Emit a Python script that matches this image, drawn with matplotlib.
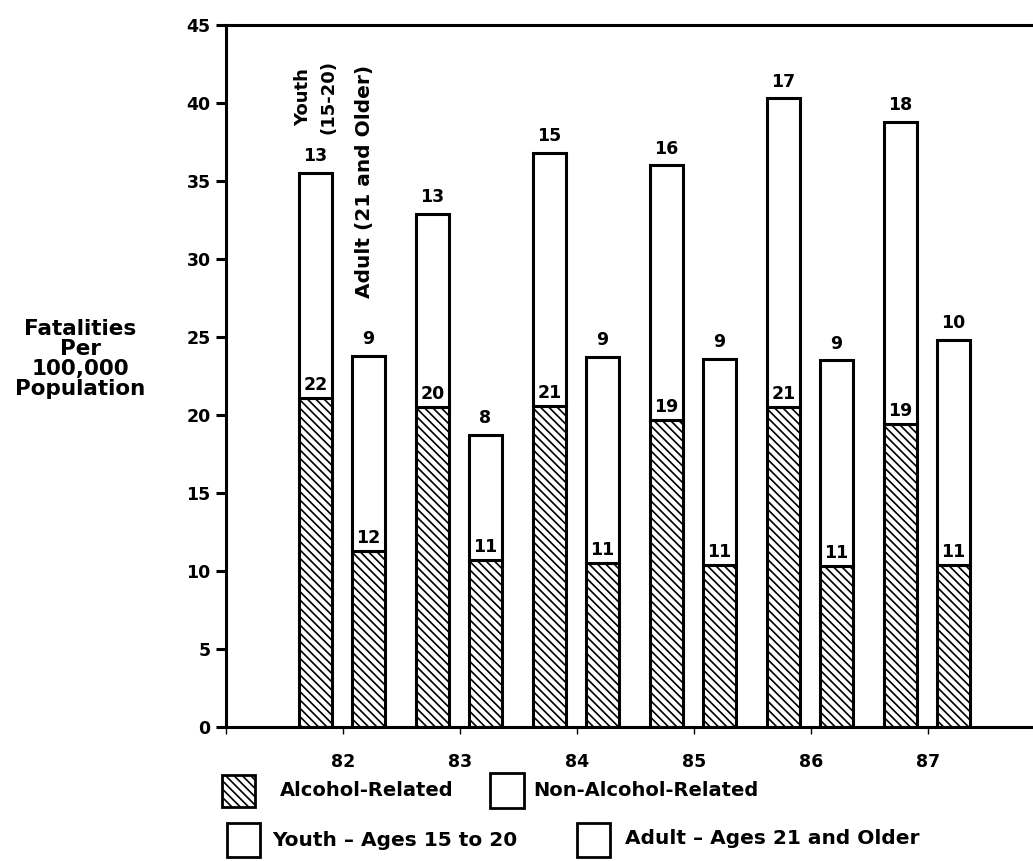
import matplotlib
matplotlib.use("Agg")
import matplotlib.pyplot as plt
from matplotlib.patches import Rectangle
import numpy as np

plt.rcParams["font.family"] = ["DejaVu Sans"]
plt.rcParams["font.weight"] = "bold"
plt.rcParams["hatch.linewidth"] = 1.2

# values (bar heights as drawn, labels as printed)
years = [82, 83, 84, 85, 86, 87]
youth_total = [35.5, 32.9, 36.8, 36.0, 40.3, 38.8]
youth_alcohol = [21.1, 20.5, 20.6, 19.7, 20.5, 19.4]
adult_total = [23.8, 18.7, 23.7, 23.6, 23.5, 24.8]
adult_alcohol = [11.3, 10.7, 10.5, 10.4, 10.3, 10.4]

youth_alc_labels = [22, 20, 21, 19, 21, 19]
youth_non_labels = [13, 13, 15, 16, 17, 18]
adult_alc_labels = [12, 11, 11, 11, 11, 11]
adult_non_labels = [9, 8, 9, 9, 9, 10]

W, H = 1033, 861
fig = plt.figure(figsize=(W / 100, H / 100), dpi=100)
fig.patch.set_facecolor("white")

# axes placed in pixels: x 81 at 226px, 88 at 1045px; y 0 at 727px, 45 at 25px
ax = fig.add_axes([226 / W, (H - 727) / H, (1045 - 226) / W, (727 - 25) / H])

x = np.array(years, dtype=float)
bw = 0.28
off_y, off_a = -0.235, 0.215
lw = 2.2


def draw_group(xpos, total, alcohol, alc_lab, non_lab):
    total = np.array(total)
    alcohol = np.array(alcohol)
    ax.bar(xpos, alcohol, width=bw, facecolor="white", edgecolor="black",
           hatch="\\\\\\\\", linewidth=lw, zorder=2)
    ax.bar(xpos, total - alcohol, bottom=alcohol, width=bw, facecolor="white",
           edgecolor="black", linewidth=lw, zorder=2)
    for xi, a, t, la, ln in zip(xpos, alcohol, total, alc_lab, non_lab):
        ax.text(xi, a + 0.25, str(la), ha="center", va="bottom",
                fontsize=12.5, fontweight="bold", zorder=3)
        ax.text(xi, t + 0.5, str(ln), ha="center", va="bottom",
                fontsize=12.5, fontweight="bold", zorder=3)


draw_group(x + off_y, youth_total, youth_alcohol, youth_alc_labels, youth_non_labels)
draw_group(x + off_a, adult_total, adult_alcohol, adult_alc_labels, adult_non_labels)

ax.set_xlim(81, 88)
ax.set_ylim(0, 45)
ax.set_yticks(range(0, 46, 5))
ax.set_yticklabels([str(v) for v in range(0, 46, 5)])
ax.set_xticks([81] + years)
ax.set_xticklabels([""] + [str(y) for y in years])

ax.tick_params(axis="y", direction="out", length=7, width=2.2, pad=4,
               labelsize=12.5)
ax.tick_params(axis="x", direction="out", length=5, width=1.0, pad=14,
               labelsize=12.5)
for lab in ax.get_xticklabels() + ax.get_yticklabels():
    lab.set_fontweight("bold")

for side in ["left", "bottom", "top"]:
    ax.spines[side].set_linewidth(2.2)
ax.spines["right"].set_visible(False)

# rotated group captions above the first pair
ax.text(82 + off_y, 40.4, "Youth\n(15-20)", rotation=90, ha="center",
        va="center", fontsize=13, fontweight="bold", linespacing=1.5)
ax.text(82 + off_a - 0.03, 35.0, "Adult (21 and Older)", rotation=90,
        ha="center", va="center", fontsize=14.5, fontweight="bold")

# y-axis caption
fig.text(80 / W, 1 - 359 / H, "Fatalities\nPer\n100,000\nPopulation",
         ha="center", va="center", fontsize=15.5, fontweight="bold",
         linespacing=1.0)


# legend drawn by hand below the axis
def legend_box(x0, y0, x1, y1, hatch=None):
    r = Rectangle((x0 / W, 1 - y1 / H), (x1 - x0) / W, (y1 - y0) / H,
                  transform=fig.transFigure, facecolor="white",
                  edgecolor="black", linewidth=2.0, hatch=hatch)
    fig.patches.append(r)


legend_box(222, 775, 255, 807, hatch="\\\\\\\\")
legend_box(490, 773, 524, 808)
legend_box(227, 823, 260, 857)
legend_box(577, 823, 610, 857)

fig.text(280 / W, 1 - 791 / H, "Alcohol-Related", ha="left", va="center",
         fontsize=14, fontweight="bold")
fig.text(533 / W, 1 - 790 / H, "Non-Alcohol-Related", ha="left", va="center",
         fontsize=14, fontweight="bold")
fig.text(272 / W, 1 - 840 / H, "Youth \u2013 Ages 15 to 20", ha="left",
         va="center", fontsize=14.5, fontweight="bold")
fig.text(625 / W, 1 - 838 / H, "Adult \u2013 Ages 21 and Older", ha="left",
         va="center", fontsize=14.5, fontweight="bold")

fig.savefig("out.png", dpi=100, facecolor="white")
